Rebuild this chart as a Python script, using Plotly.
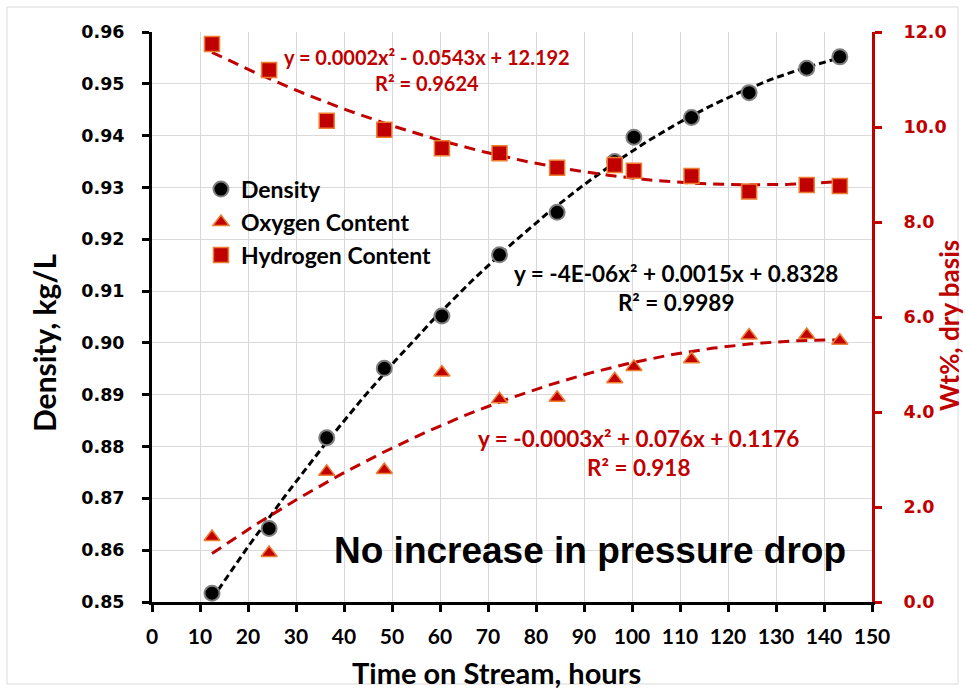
import numpy as np
import plotly.graph_objects as go

# ---- data ----
hours = [12.5, 24.4, 36.4, 48.4, 60.4, 72.4, 84.4, 96.4, 100.4, 112.4, 124.4, 136.4, 143.3]
density = [0.8517, 0.8642, 0.8817, 0.8951, 0.9052, 0.9170, 0.9252, 0.9350, 0.9397, 0.9435, 0.9483, 0.9530, 0.9552]
oxygen = [1.37, 1.03, 2.74, 2.78, 4.83, 4.27, 4.30, 4.69, 4.95, 5.11, 5.61, 5.62, 5.50]
hydrogen = [11.75, 11.20, 10.13, 9.94, 9.55, 9.45, 9.14, 9.20, 9.08, 8.97, 8.64, 8.78, 8.76]

x_ticks = list(range(0, 151, 10))
eq_density = "y = -4E-06x² + 0.0015x + 0.8328<br>R² = 0.9989"
eq_oxygen = "y = -0.0003x² + 0.076x + 0.1176<br>R² = 0.918"
eq_hydrogen = "y = 0.0002x² - 0.0543x + 12.192<br>R² = 0.9624"
note = "No increase in pressure drop"

RED = "#C00000"
ORANGE = "#ED7D31"
GRID = "#D9D9D9"
LABEL_FONT = "Lato"
TICK_FONT = "DejaVu Sans"


def trend(xs, ys):
    c = np.polyfit(xs, ys, 2)
    xx = np.linspace(min(xs), max(xs), 200)
    return xx, np.polyval(c, xx)


fig = go.Figure()

# trendlines
xd, yd = trend(hours, density)
fig.add_trace(go.Scatter(x=xd, y=yd, mode="lines", showlegend=False, hoverinfo="skip",
                         line=dict(color="black", width=3, dash="7px,4px")))
xo, yo = trend(hours, oxygen)
fig.add_trace(go.Scatter(x=xo, y=yo, mode="lines", showlegend=False, hoverinfo="skip", yaxis="y2",
                         line=dict(color=RED, width=3, dash="11px,7px")))
xh, yh = trend(hours, hydrogen)
fig.add_trace(go.Scatter(x=xh, y=yh, mode="lines", showlegend=False, hoverinfo="skip", yaxis="y2",
                         line=dict(color=RED, width=3, dash="11px,7px")))

# markers
fig.add_trace(go.Scatter(x=hours, y=density, mode="markers", name="Density",
                         marker=dict(symbol="circle", size=15, color="black",
                                     line=dict(color="#7F7F7F", width=2))))
fig.add_trace(go.Scatter(x=hours, y=oxygen, mode="markers", name="Oxygen Content", yaxis="y2",
                         marker=dict(symbol="triangle-up", size=14, color=RED,
                                     line=dict(color=ORANGE, width=1.5))))
fig.add_trace(go.Scatter(x=hours, y=hydrogen, mode="markers", name="Hydrogen Content", yaxis="y2",
                         marker=dict(symbol="square", size=15, color=RED,
                                     line=dict(color=ORANGE, width=1.5))))

bold = dict(family=LABEL_FONT, weight="bold")

annotations = [
    dict(text=eq_hydrogen, x=427, y=11.2, xref="x", yref="y2", showarrow=False, align="center",
         font=dict(size=20, color=RED, **bold)),
    dict(text=eq_density, x=676, y=0.9106, xref="x", yref="y", showarrow=False, align="center",
         font=dict(size=22.5, color="black", **bold)),
    dict(text=eq_oxygen, x=638, y=3.13, xref="x", yref="y2", showarrow=False, align="center",
         font=dict(size=22.5, color=RED, **bold)),
    dict(text=note, x=590, y=550, showarrow=False,
         font=dict(size=37, color="black", family="Liberation Sans", weight="bold")),
    dict(text="Time on Stream, hours", x=496, y=672, showarrow=False,
         font=dict(size=29, color="black", **bold)),
    dict(text="Density, kg/L", x=44, y=343, showarrow=False, textangle=-90,
         font=dict(size=30, color="black", **bold)),
    dict(text="Wt%, dry basis", x=949, y=326, showarrow=False, textangle=-90,
         font=dict(size=26, color=RED, **bold)),
]
# convert pixel-placed annotations to paper / data coords
L, R, T, B = 152, 872, 32, 602
for a in annotations:
    a["xanchor"] = "center"
    a["yanchor"] = "middle"
    if "xref" not in a:
        a["xref"] = "paper"
        a["yref"] = "paper"
        a["x"] = (a["x"] - L) / (R - L)
        a["y"] = (B - a["y"]) / (B - T)
    else:
        a["x"] = (a["x"] - L) / (R - L) * 150

fig.update_layout(
    width=966, height=691,
    margin=dict(l=152, r=94, t=32, b=89),
    paper_bgcolor="white", plot_bgcolor="white",
    showlegend=True,
    legend=dict(x=0.068, y=0.762, xanchor="left", yanchor="top", bgcolor="rgba(0,0,0,0)",
                font=dict(size=23, color="black", **bold), tracegroupgap=0,
                itemwidth=30),
    xaxis=dict(range=[0, 150], tickvals=x_ticks, showgrid=True, gridcolor=GRID, gridwidth=1,
               zeroline=False, showline=True, linecolor="black", linewidth=3,
               ticks="outside", ticklen=7, tickwidth=2.5, tickcolor="black",
               tickfont=dict(size=21, color="black", **bold),
               ticklabelstandoff=7),
    yaxis=dict(range=[0.85, 0.96], dtick=0.01, tickformat=".2f", showgrid=True, gridcolor=GRID,
               gridwidth=1, zeroline=False, showline=True, linecolor="black", linewidth=3,
               ticks="outside", ticklen=7, tickwidth=2.5, tickcolor="black",
               tickfont=dict(size=17.5, color="black", family=TICK_FONT, weight="bold"),
               ticklabelstandoff=14),
    yaxis2=dict(range=[0, 12], dtick=2, tickformat=".1f", overlaying="y", side="right",
                showgrid=False, zeroline=False, showline=True, linecolor=RED, linewidth=3,
                ticks="outside", ticklen=7, tickwidth=2.5, tickcolor=RED,
                tickfont=dict(size=17.5, color=RED, family=TICK_FONT, weight="bold"),
                ticklabelstandoff=18),
    annotations=annotations,
    shapes=[dict(type="rect", xref="paper", yref="paper",
                 x0=(7 - L) / (R - L), x1=(958 - L) / (R - L),
                 y0=(B - 684) / (B - T), y1=(B - 7) / (B - T),
                 line=dict(color=GRID, width=1), layer="below")],
)

fig.write_html("out.html")
